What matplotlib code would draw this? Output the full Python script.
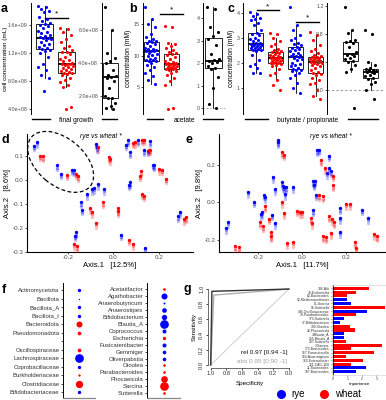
import numpy as np
import matplotlib
matplotlib.use('Agg')
import matplotlib.pyplot as plt
import matplotlib.transforms as mtransforms
from matplotlib.patches import Ellipse
from matplotlib.lines import Line2D

plt.rcParams['font.family'] = ['Liberation Sans', 'DejaVu Sans']
plt.rcParams['axes.unicode_minus'] = False

RYE = '#0000ff'
WHEAT = '#ff0000'
GREY = '#4d4d4d'

# ---------------- data ----------------
# a: final growth (cells / mL)
growth_rye = np.array([1.87, 1.85, 1.83, 1.80, 1.78, 1.72, 1.68, 1.66, 1.63, 1.62, 1.60, 1.58, 1.56,
                       1.52, 1.50, 1.48, 1.46, 1.44, 1.43, 1.42, 1.41, 1.40, 1.38, 1.36, 1.33, 1.31,
                       1.29, 1.27, 1.26, 1.25, 1.23, 1.20, 1.15, 1.05, 1.00, 0.96, 0.88, 0.84, 0.66]) * 1e9
growth_wheat = np.array([1.56, 1.54, 1.50, 1.45, 1.40, 1.35, 1.30, 1.27, 1.24, 1.22, 1.21, 1.18, 1.15,
                         1.12, 1.10, 1.08, 1.06, 1.05, 1.04, 1.04, 1.03, 1.02, 1.00, 0.99, 0.97, 0.96,
                         0.95, 0.93, 0.92, 0.91, 0.90, 0.88, 0.85, 0.82, 0.78, 0.75, 0.72, 0.43, 0.40]) * 1e9
growth_diff = np.array([7.4, 6.0, 4.6, 4.3, 4.1, 4.0, 3.6, 3.3, 3.2, 3.15, 3.1, 2.9, 2.5, 2.0, 1.9,
                        1.85, 1.6, 1.4, 1.3, 1.2]) * 1e8

# b: acetate (mM)
acetate_rye = [17.8, 15.8, 15.0, 14.6, 13.5, 13.0, 12.6, 12.4, 12.3, 12.2, 12.0, 11.8, 11.5, 11.3,
               11.1, 11.0, 10.9, 10.8, 10.8, 10.7, 10.5, 10.3, 10.1, 9.9, 9.7, 9.5, 9.4, 9.3, 9.2,
               9.1, 8.9, 8.6, 8.2, 7.8, 7.3, 6.8, 6.2, 5.6]
acetate_wheat = [14.7, 14.6, 12.0, 11.8, 11.5, 11.2, 10.9, 10.6, 10.4, 10.3, 10.2, 9.8, 9.5, 9.2, 9.0,
                 8.9, 8.8, 8.7, 8.7, 8.6, 8.5, 8.4, 8.3, 8.2, 8.1, 8.0, 7.9, 7.9, 7.8, 7.6, 7.3, 7.0,
                 6.5, 6.0, 5.4, 1.7, 1.6]
acetate_diff = [4.5, 4.4, 3.6, 3.4, 3.2, 3.1, 2.8, 2.4, 2.2, 2.15, 2.1, 2.05, 2.0, 1.9, 1.8, 1.75,
                1.4, 0.9, 0.2, 0.0]

# c: butyrate / propionate (mM)
butyrate_rye = [4.04, 3.95, 3.85, 3.8, 3.75, 3.7, 3.6, 3.5, 3.3, 3.2, 3.15, 3.1, 3.0, 2.95, 2.9, 2.85,
                2.8, 2.78, 2.76, 2.74, 2.72, 2.7, 2.68, 2.65, 2.62, 2.6, 2.58, 2.55, 2.52, 2.5, 2.45,
                2.3, 2.1, 1.95, 1.85, 1.8, 1.6, 1.6]
butyrate_wheat = [3.18, 3.15, 3.0, 2.85, 2.75, 2.65, 2.55, 2.5, 2.47, 2.44, 2.42, 2.4, 2.35, 2.3, 2.28,
                  2.25, 2.22, 2.2, 2.18, 2.17, 2.15, 2.12, 2.1, 2.08, 2.05, 2.03, 2.0, 1.99, 1.98,
                  1.95, 1.9, 1.85, 1.75, 1.6, 1.5, 1.31, 1.1, 0.9]
propionate_rye = [4.24, 3.5, 3.3, 3.1, 3.0, 2.9, 2.8, 2.75, 2.7, 2.62, 2.58, 2.55, 2.5, 2.45, 2.4, 2.35,
                  2.3, 2.28, 2.25, 2.23, 2.2, 2.15, 2.1, 2.0, 1.95, 1.9, 1.85, 1.8, 1.75, 1.72, 1.7,
                  1.65, 1.6, 1.5, 1.4, 1.2, 1.0, 0.8]
propionate_wheat = [3.24, 3.1, 2.9, 2.7, 2.55, 2.45, 2.38, 2.32, 2.28, 2.24, 2.22, 2.2, 2.18, 2.15,
                    2.12, 2.1, 2.07, 2.05, 2.03, 2.02, 2.0, 1.98, 1.95, 1.9, 1.85, 1.8, 1.7, 1.62,
                    1.58, 1.55, 1.5, 1.4, 1.3, 1.2, 1.15, 0.91, 0.68, 0.55]
butyrate_diff = [1.19, 0.86, 0.82, 0.72, 0.70, 0.68, 0.67, 0.62, 0.55, 0.52, 0.50, 0.48, 0.46, 0.44,
                 0.42, 0.40, 0.35, 0.30, 0.26, -0.26]
propionate_diff = [0.86, 0.80, 0.40, 0.35, 0.31, 0.30, 0.29, 0.28, 0.27, 0.26, 0.25, 0.24, 0.22, 0.20,
                   0.17, 0.15, 0.12, 0.08, 0.0, -0.13]

# d: PCoA (Axis.1 12.5 %, Axis.2 8.6 %)
d_rye_x = [-0.337, -0.348, -0.246, -0.232, -0.183, -0.173, -0.076, -0.073, -0.066, -0.085, -0.095,
           -0.041, -0.116, -0.144, -0.138, -0.164, -0.169, 0.034, 0.139, 0.073, 0.069, 0.066, 0.054,
           0.075, 0.110, 0.161, 0.135, 0.150, 0.173, 0.180, 0.293, 0.286]
d_rye_y = [0.156, 0.142, 0.060, 0.025, 0.042, 0.039, 0.149, 0.135, -0.018, -0.035, -0.039, -0.039,
           -0.060, -0.094, -0.125, -0.219, -0.233, -0.229, -0.285, -0.011, -0.021, 0.164, 0.146,
           0.114, 0.164, 0.160, 0.122, 0.121, 0.063, 0.060, -0.135, -0.153]
d_wheat_x = [-0.323, -0.311, -0.205, -0.164, -0.154, -0.069, -0.019, -0.013, 0.088, 0.095, 0.125,
             0.133, 0.157, 0.161, 0.120, 0.117, 0.201, 0.213, 0.232, 0.125, 0.135, -0.047, -0.103,
             -0.092, -0.076, 0.021, 0.022, 0.069, 0.084, -0.172, -0.158, 0.318, 0.312]
d_wheat_y = [0.100, 0.097, 0.021, 0.024, 0.014, 0.136, 0.093, 0.086, 0.153, 0.156, 0.167, 0.167,
             0.125, 0.125, 0.035, 0.017, 0.044, 0.042, 0.004, -0.058, -0.067, -0.094, -0.118,
             -0.135, -0.181, -0.119, -0.132, -0.250, -0.268, -0.268, -0.278, -0.157, -0.164]

# e: PCoA (Axis.1 11.7 %, Axis.2 9.8 %)
e_rye_x = [-0.108, -0.108, 0.070, 0.076, 0.122, 0.113, 0.122, 0.132, 0.052, 0.059, 0.055, 0.064,
           0.049, 0.175, 0.175, 0.175, 0.272, 0.300, -0.131, -0.123, -0.091, -0.088, -0.081, -0.073,
           -0.076, -0.043, -0.248, -0.221, -0.175, -0.169, -0.184, -0.187, -0.138, -0.123, -0.339,
           -0.347]
e_rye_y = [0.337, 0.323, 0.280, 0.283, 0.251, 0.158, 0.185, 0.167, 0.113, 0.117, 0.095, 0.041,
           -0.043, -0.032, -0.084, -0.160, -0.039, -0.084, 0.136, 0.072, 0.108, 0.086, 0.083, 0.081,
           0.045, 0.083, 0.056, 0.004, 0.041, 0.029, -0.052, -0.063, -0.066, -0.111, -0.106, -0.138]
e_wheat_x = [-0.091, -0.084, 0.087, 0.105, 0.143, 0.140, 0.076, 0.094, 0.201, 0.221, -0.093, -0.167,
             -0.081, -0.023, -0.008, 0.000, -0.149, -0.144, -0.141, -0.190, -0.179, 0.041, 0.044,
             0.125, 0.135, 0.148, 0.132, 0.097, 0.110, -0.068, -0.043, -0.304, -0.286, 0.243, 0.246,
             0.330, 0.342]
e_wheat_y = [0.269, 0.256, 0.226, 0.185, 0.143, 0.091, 0.038, 0.032, -0.009, -0.009, 0.002, -0.022,
             -0.057, -0.045, -0.052, -0.052, -0.088, -0.160, -0.183, -0.108, -0.129, -0.086, -0.111,
             -0.075, -0.090, -0.108, -0.165, -0.183, -0.188, -0.219, -0.213, -0.237, -0.242, -0.215,
             -0.246, -0.170, -0.183]

# f: differential taxa (phyla / families, genera)
f1_taxa = ['Actinomycetota', 'Bacillota', 'Bacillota_A', 'Bacillota_I', 'Bacteroidota',
           'Pseudomonadota', '', 'Oscillospiraceae', 'Lachnospiraceae', 'Coprobacillaceae',
           'Burkholderiaceae', 'Clostridiaceae', 'Bifidobacteriaceae']
f1_effect = [1.5, 0.25, 1.5, 1.5, 4.7, 1.8, 0, 1.8, 9.8, 1.5, 0.7, 7.0, 1.5]
f1_group = ['rye', 'rye', 'rye', 'rye', 'wheat', 'wheat', None, 'wheat', 'rye', 'rye', 'wheat',
            'wheat', 'rye']
f2_taxa = ['Acetatifactor', 'Agathobacter', 'Anaerobutyricum', 'Anaerostipes', 'Bifidobacterium',
           'Blautia_A', 'Coprococcus', 'Escherichia', 'Fusicatenibacter', 'Gemmiger', 'Oliverpabstia',
           'Otoolea', 'Parabacteroides', 'Phocaeicola', 'Sarcina', 'Sutterella']
f2_effect = [0.9, 4.7, 0.5, 2.8, 3.7, 9.8, 2.1, 1.45, 2.1, 1.75, 1.75, 0.9, 0.9, 5.8, 9.8, 0.9]
f2_group = ['wheat', 'rye', 'rye', 'rye', 'rye', 'rye', 'rye', 'wheat', 'rye', 'rye', 'rye', 'wheat',
            'wheat', 'wheat', 'wheat', 'wheat']

# g: ROC curves and feature importance
roc_rel_spec = [1.0, 0.985, 0.0]
roc_rel_sens = [0.0, 0.97, 1.0]
roc_abs_spec = [1.0, 0.96, 0.0]
roc_abs_sens = [0.0, 0.92, 1.0]
imp_features = ['786-Alti', '70-Escherichia', '62-Bacteroides', '52-Mediterraneibacter', '81-Sarcina',
                '56-Sutterella', '406-Oscillospiraceae', '39-Parabacteroides', '373-Sutterella',
                '37-Bifidobacterium', '349-Otoolea', '32-Phocaeicola', '3-Blautia_A', '265-Blautia_A',
                '287-Sutterella', '2-Sarcina', '173-Bacteroides', '167-Parasutterella',
                '164-Anaerotignum', '163-Enterocloster', '121-CAG-184', '11-Bacteroides',
                '107-Bacteroides']
imp_values = [2.51, 1.58, 0.96, 1.0, 1.25, 3.56, 2.33, 1.6, 0.8, 0.5, 1.19, 1.5, 0.77, 0.8, 0.91, 3.4,
              1.25, 2.8, 0.91, 2.05, 1.25, 2.3, 1.58]
imp_group = ['wheat', 'wheat', 'wheat', 'rye', 'rye', 'wheat', 'rye', 'wheat', 'rye', 'rye', 'wheat',
             'wheat', 'rye', 'rye', 'wheat', 'wheat', 'wheat', 'wheat', 'wheat', 'wheat', 'wheat',
             'rye', 'rye']

COL = {'rye': RYE, 'wheat': WHEAT}

# ---------------- layout helpers ----------------
W, H = 386, 400
fig = plt.figure(figsize=(W / 100, H / 100), dpi=100)


def rect(l, t, r, b):
    return [l / W, 1 - b / H, (r - l) / W, (b - t) / H]


def fx(x):
    return x / W


def fy(y):
    return 1 - y / H


def jitter(n, width=0.3):
    # deterministic spread of points across the box
    return ((np.arange(n) * 0.618034) % 1 - 0.5) * 2 * width


def top_style(ax):
    for s in ['top', 'right', 'bottom']:
        ax.spines[s].set_visible(False)
    ax.spines['left'].set_linewidth(0.7)
    ax.set_xticks([])
    ax.tick_params(axis='y', labelsize=3.9, colors='black', labelcolor=GREY, length=1.5,
                   width=0.5, pad=1)


def boxes(ax, groups, positions, colors, width=0.75):
    ax.boxplot(groups, positions=positions, widths=width, showfliers=False, patch_artist=True,
               boxprops=dict(facecolor='white', edgecolor='black', linewidth=0.6),
               medianprops=dict(color='black', linewidth=1.3),
               whiskerprops=dict(color='black', linewidth=0.6),
               capprops=dict(linewidth=0), zorder=1)
    for g, p, c in zip(groups, positions, colors):
        ax.scatter(p + jitter(len(g)), g, s=5, color=c, zorder=3, linewidths=0)
    ax.set_xticks([])


def sig(ax, x0, x1, y, ystar):
    ax.plot([x0, x1], [y, y], color='black', lw=1.0, clip_on=False)
    ax.text((x0 + x1) / 2, ystar, '*', ha='center', va='center', fontsize=6)


def xline(x0, x1, y=118.5):
    fig.add_artist(Line2D([fx(x0), fx(x1)], [fy(y), fy(y)], color='black', lw=1.0))


def letter(x, y, s):
    fig.text(fx(x), fy(y), s, fontsize=9, fontweight='bold', ha='left', va='center')


# ---------------- a ----------------
ax = fig.add_axes(rect(31, 3, 92, 114))
boxes(ax, [growth_rye, growth_wheat], [1, 2], [RYE, WHEAT], width=0.77)
ax.set_xlim(0.386, 3.16)
ax.set_ylim(0.329e9, 1.914e9)
ticks = [4e8, 8e8, 1.2e9, 1.6e9]
ax.set_yticks(ticks, ['%.1e' % t for t in ticks])
top_style(ax)
ax.set_ylabel('cell concentration (mL)', fontsize=4.6)
ax.yaxis.set_label_coords(-0.37, 0.5)
sig(ax, 1.0, 2.05, 1.70e9, 1.76e9)

ax = fig.add_axes(rect(101.7, 3, 126, 114))
boxes(ax, [growth_diff], [1], ['black'])
ax.set_xlim(0.56, 1.775)
ax.set_ylim(0.91e8, 7.64e8)
ticks = [2e8, 4e8, 6e8]
ax.set_yticks(ticks, ['%.1e' % t for t in ticks])
top_style(ax)

xline(32, 50)
xline(102, 117)
fig.text(fx(76), fy(120.5), 'final growth', fontsize=4.8, ha='center', va='center')

# ---------------- b ----------------
ax = fig.add_axes(rect(143.3, 3, 190, 114))
boxes(ax, [acetate_rye, acetate_wheat], [1, 2], [RYE, WHEAT])
ax.set_xlim(0.615, 2.95)
ax.set_ylim(0.76, 18.38)
ax.set_yticks([5, 10, 15])
top_style(ax)
ax.set_ylabel('concentration (mM)', fontsize=4.8, labelpad=1)
sig(ax, 1.45, 2.6, 16.6, 17.3)

ax = fig.add_axes(rect(203, 3, 226, 114))
ax.axhline(0, color='#9a9a9a', lw=0.6, ls=(0, (2, 2)), zorder=0)
boxes(ax, [acetate_diff], [1], ['black'], width=0.83)
ax.set_xlim(0.485, 1.635)
ax.set_ylim(-0.25, 4.68)
ax.set_yticks([0, 1, 2, 3, 4])
top_style(ax)

xline(147, 163)
xline(203, 223)
fig.text(fx(184), fy(120.5), 'acetate', fontsize=4.8, ha='center', va='center')

# ---------------- c ----------------
ax = fig.add_axes(rect(243.3, 3, 325, 114))
boxes(ax, [butyrate_rye, butyrate_wheat, propionate_rye, propionate_wheat], [1, 2, 3, 4],
      [RYE, WHEAT, RYE, WHEAT])
ax.set_xlim(0.375, 4.46)
ax.set_ylim(-0.05, 4.39)
ax.set_yticks([1, 2, 3, 4])
top_style(ax)
ax.set_ylabel('concentration (mM)', fontsize=4.8, labelpad=1)
sig(ax, 1.06, 2.16, 4.11, 4.25)
sig(ax, 3.01, 4.16, 3.64, 3.79)

ax = fig.add_axes(rect(327.3, 3, 386, 114))
ax.axhline(0, color='#9a9a9a', lw=0.8, ls=(0, (2, 2)), zorder=0, xmax=0.95)
boxes(ax, [butyrate_diff, propionate_diff], [1, 2], ['black', 'black'])
ax.set_xlim(-0.175, 2.76)
ax.set_ylim(-0.343, 1.243)
ax.set_yticks([0.0, 0.4, 0.8, 1.2], ['0.0', '0.4', '0.8', '1.2'])
top_style(ax)

xline(245, 268)
xline(348, 378)
fig.text(fx(308), fy(120.5), 'butyrate / propionate', fontsize=4.8, ha='center', va='center')


# ---------------- d / e ----------------
def pcoa(ax, xs, ys, color):
    for dy, alpha in [(-4.6, 0.25), (-2.3, 0.45), (0, 1.0)]:
        tr = mtransforms.offset_copy(ax.transData, fig=fig, y=dy, units='dots')
        ax.scatter(xs, ys, s=6, color=color, alpha=alpha, linewidths=0, transform=tr, zorder=3)


def pcoa_style(ax, xlabel, ylabel):
    for s in ['top', 'right']:
        ax.spines[s].set_visible(False)
    for s in ['left', 'bottom']:
        ax.spines[s].set_linewidth(0.8)
    ax.tick_params(labelsize=4.5, labelcolor=GREY, length=1.5, width=0.5, pad=1)
    ax.set_xlabel(xlabel, fontsize=5.5, labelpad=1)
    ax.set_ylabel(ylabel, fontsize=5.5, labelpad=1)


ax = fig.add_axes(rect(27, 134, 193, 252))
pcoa(ax, d_rye_x, d_rye_y, RYE)
pcoa(ax, d_wheat_x, d_wheat_y, WHEAT)
ax.set_xlim(-0.380, 0.350)
ax.set_ylim(-0.301, 0.190)
ax.set_xticks([-0.2, 0.0, 0.2], ['-0.2', '0.0', '0.2'])
ax.set_yticks([-0.3, -0.2, -0.1, 0.0, 0.1], ['-0.3', '-0.2', '-0.1', '0.0', '0.1'])
pcoa_style(ax, 'Axis.1   [12.5%]', 'Axis.2   [8.6%]')
ax.text(0.446, 0.975, 'rye vs wheat *', transform=ax.transAxes, fontsize=4.8, style='italic',
        ha='center', va='center')
ell_tr = fig.dpi_scale_trans + mtransforms.ScaledTranslation(-0.232, 0.074, ax.transData)
ax.add_patch(Ellipse((0, 0), 0.766, 0.47, angle=-40, transform=ell_tr, fill=False,
                     edgecolor='black', lw=0.9, ls=(0, (3, 2)), clip_on=False))

ax = fig.add_axes(rect(219, 134, 386, 252))
pcoa(ax, e_rye_x, e_rye_y, RYE)
pcoa(ax, e_wheat_x, e_wheat_y, WHEAT)
ax.set_xlim(-0.379, 0.383)
ax.set_ylim(-0.267, 0.368)
ax.set_xticks([-0.2, 0.0, 0.2], ['-0.2', '0.0', '0.2'])
ax.set_yticks([-0.2, 0.0, 0.2], ['-0.2', '0.0', '0.2'])
pcoa_style(ax, 'Axis.1   [11.7%]', 'Axis.2   [9.8%]')
ax.text(0.67, 0.975, 'rye vs wheat *', transform=ax.transAxes, fontsize=4.8, style='italic',
        ha='center', va='center')


# ---------------- f ----------------
def dots(ax, taxa, effect, group):
    ys = np.arange(len(taxa))
    for y, e, g in zip(ys, effect, group):
        if g is not None:
            ax.scatter(1, y, s=e * 4, color=COL[g], linewidths=0, zorder=3)
    ax.set_yticks(ys, taxa)
    ax.set_xlim(0, 2)
    ax.set_xticks([])
    ax.spines['top'].set_visible(False)
    ax.spines['right'].set_visible(False)
    ax.spines['left'].set_linewidth(0.7)
    ax.spines['bottom'].set_color('#888888')
    ax.spines['bottom'].set_linewidth(0.9)
    ax.tick_params(axis='y', labelsize=4.3, labelcolor='#333333', length=1.5, width=0.5, pad=1)


ax = fig.add_axes(rect(63, 283, 95, 398))
dots(ax, f1_taxa, f1_effect, f1_group)
ax.set_ylim(12.68, -0.82)

ax = fig.add_axes(rect(147, 283, 180, 398))
dots(ax, f2_taxa, f2_effect, f2_group)
ax.set_ylim(15.68, -0.86)

# ---------------- g ----------------
ax = fig.add_axes(rect(207.6, 286, 292, 368))
ax.plot([1, 0], [0, 1], color='#c8c8c8', lw=0.6)
ax.plot(roc_abs_spec, roc_abs_sens, color='#b0b0b0', lw=1.0)
ax.plot(roc_rel_spec, roc_rel_sens, color='#333333', lw=1.0)
ax.set_xlim(1.04, -0.04)
ax.set_ylim(-0.04, 1.04)
for s in ['top', 'right']:
    ax.spines[s].set_visible(False)
ax.spines['left'].set_bounds(0, 1)
ax.spines['bottom'].set_bounds(0, 1)
for s in ['left', 'bottom']:
    ax.spines[s].set_linewidth(0.5)
    ax.spines[s].set_color('#333333')
t = [0.0, 0.2, 0.4, 0.6, 0.8, 1.0]
ax.set_xticks(t, ['%.1f' % v for v in t])
ax.set_yticks(t, ['%.1f' % v for v in t])
ax.tick_params(labelsize=4.2, labelcolor='#333333', length=1.5, width=0.5, pad=1)
plt.setp(ax.get_yticklabels(), rotation=90, va='center')
ax.set_xlabel('Specificity', fontsize=4.5, labelpad=3)
ax.set_ylabel('Sensitivity', fontsize=4.5, labelpad=2)
ax.text(0.02, 0.16, 'rel 0.97 [0.94 -1]', fontsize=4.6, ha='right', va='center', color='#111111')
ax.text(0.02, 0.05, 'abs 0.95 [0.90 -1]', fontsize=4.6, ha='right', va='center', color='#a0a0a0')

ax = fig.add_axes(rect(331.7, 285, 387, 375))
ys = np.arange(len(imp_features))
ax.barh(ys, imp_values, height=0.8, color=[COL[g] for g in imp_group], edgecolor='none')
ax.axvline(0, color='black', lw=0.5)
ax.set_ylim(22.87, -0.87)
ax.set_xlim(-0.07, 3.72)
ax.set_yticks(ys, imp_features)
ax.set_xticks([0, 1, 2, 3])
ax.tick_params(labelsize=2.4, labelcolor='#333333', length=1, width=0.4, pad=0.5)
for s in ax.spines.values():
    s.set_color('#cccccc')
    s.set_linewidth(0.4)
ax.set_xlabel('importance', fontsize=3.2, labelpad=1)

handles = [Line2D([], [], marker='o', ls='', color=RYE, markersize=5.5),
           Line2D([], [], marker='o', ls='', color=WHEAT, markersize=5.5)]
fig.legend(handles, ['rye', 'wheat'], loc='center', bbox_to_anchor=(fx(316), fy(394)), ncol=2,
           frameon=False, fontsize=7, handletextpad=0.1, columnspacing=1.0, borderpad=0)

# ---------------- panel letters ----------------
letter(1, 9, 'a')
letter(129, 9, 'b')
letter(227, 9, 'c')
letter(2, 140, 'd')
letter(186, 140, 'e')
letter(2, 290, 'f')
letter(184, 289, 'g')

fig.savefig('out.png', dpi=100)
